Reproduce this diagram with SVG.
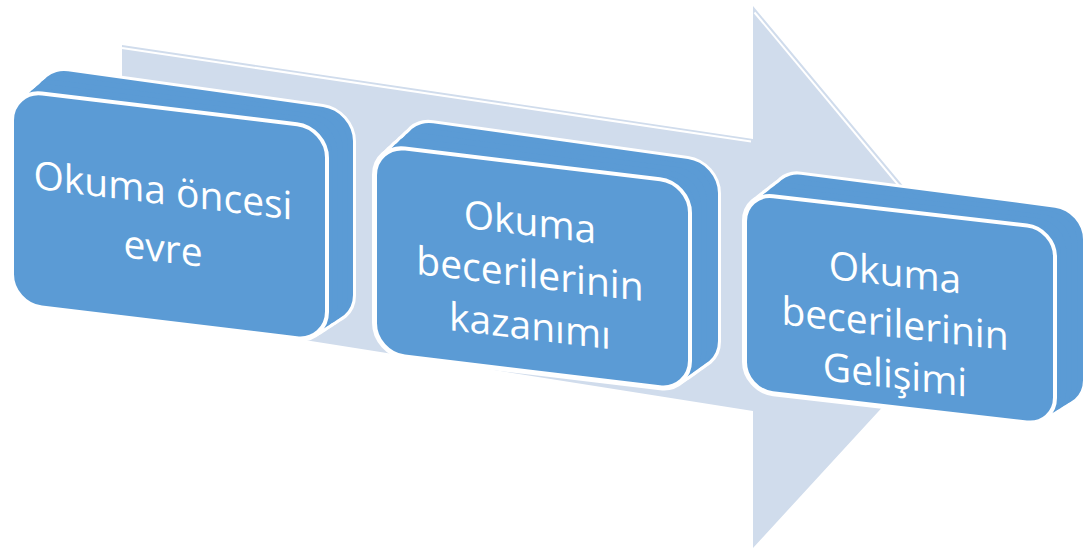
<svg xmlns="http://www.w3.org/2000/svg" xmlns:xlink="http://www.w3.org/1999/xlink" width="1091" height="552" viewBox="0 0 1091 552">
<style>
.arrow{fill:#D0DCEC}
.hl{stroke:#ffffff;stroke-width:2;fill:none}
.halo{fill:#ffffff;stroke:#ffffff;stroke-width:6;stroke-linejoin:round}
.body{fill:#5B9BD5;stroke:none}
.face{fill:#5B9BD5;stroke:#ffffff;stroke-width:4}
.lbl{font-family:"Open Sans","Noto Sans",sans-serif;font-size:39px;fill:#ffffff;text-anchor:middle}
</style>
<defs>
<rect id="f1" width="315" height="214" rx="30"/>
<rect id="f2" width="315" height="208" rx="30"/>
<rect id="f3" width="310" height="197" rx="28"/>
<g id="s1">
<use href="#f1" transform="matrix(1,0.14,0,1,38,67)"/>
<use href="#f1" transform="matrix(1,0.136,0,1,32.8,71.6)"/>
<use href="#f1" transform="matrix(1,0.132,0,1,27.6,76.2)"/>
<use href="#f1" transform="matrix(1,0.128,0,1,22.4,80.8)"/>
<use href="#f1" transform="matrix(1,0.124,0,1,17.2,85.4)"/>
<use href="#f1" transform="matrix(1,0.12,0,1,12,90)"/>
</g>
<g id="s2">
<use href="#f2" transform="matrix(1,0.14,0,1,403,119)"/>
<use href="#f2" transform="matrix(1,0.136,0,1,397.4,124.2)"/>
<use href="#f2" transform="matrix(1,0.132,0,1,391.8,129.4)"/>
<use href="#f2" transform="matrix(1,0.128,0,1,386.2,134.6)"/>
<use href="#f2" transform="matrix(1,0.124,0,1,380.6,139.8)"/>
<use href="#f2" transform="matrix(1,0.12,0,1,375,145)"/>
</g>
<g id="s3">
<use href="#f3" transform="matrix(1,0.13,0,1,773,171)"/>
<use href="#f3" transform="matrix(1,0.127,0,1,767.4,175.4)"/>
<use href="#f3" transform="matrix(1,0.124,0,1,761.8,179.8)"/>
<use href="#f3" transform="matrix(1,0.121,0,1,756.2,184.2)"/>
<use href="#f3" transform="matrix(1,0.118,0,1,750.6,188.6)"/>
<use href="#f3" transform="matrix(1,0.115,0,1,745,193)"/>
</g>
</defs>

<g id="connectors">
<g id="process-arrow">
<polygon class="arrow" points="122,45 753,139 753,6 990,290 753,548 753,411 122,311"/>
<polyline class="hl" points="122,48 751,141.5"/>
<polyline class="hl" points="754.5,12.5 905,193"/>
</g>
</g>

<g id="node1">
<use href="#s1" class="halo"/>
<use href="#s1" class="body"/>
<use href="#f1" class="face" transform="matrix(1,0.12,0,1,12,90)"/>
<text class="lbl" transform="matrix(1,0.12,0,1,12,90)"><tspan x="151" y="96">Okuma öncesi</tspan><tspan x="151" y="154">evre</tspan></text>
</g>

<g id="node2">
<use href="#s2" class="halo"/>
<use href="#s2" class="body"/>
<use href="#f2" class="face" transform="matrix(1,0.12,0,1,375,145)"/>
<text class="lbl" transform="matrix(1,0.12,0,1,375,145)"><tspan x="155" y="72">Okuma</tspan><tspan x="155" y="124">becerilerinin</tspan><tspan x="155" y="176">kazanımı</tspan></text>
</g>

<g id="node3">
<use href="#s3" class="halo"/>
<use href="#s3" class="body"/>
<use href="#f3" class="face" transform="matrix(1,0.115,0,1,745,193)"/>
<text class="lbl" transform="matrix(1,0.115,0,1,745,193)"><tspan x="150" y="76">Okuma</tspan><tspan x="150" y="127">becerilerinin</tspan><tspan x="150" y="178">Gelişimi</tspan></text>
</g>
</svg>
